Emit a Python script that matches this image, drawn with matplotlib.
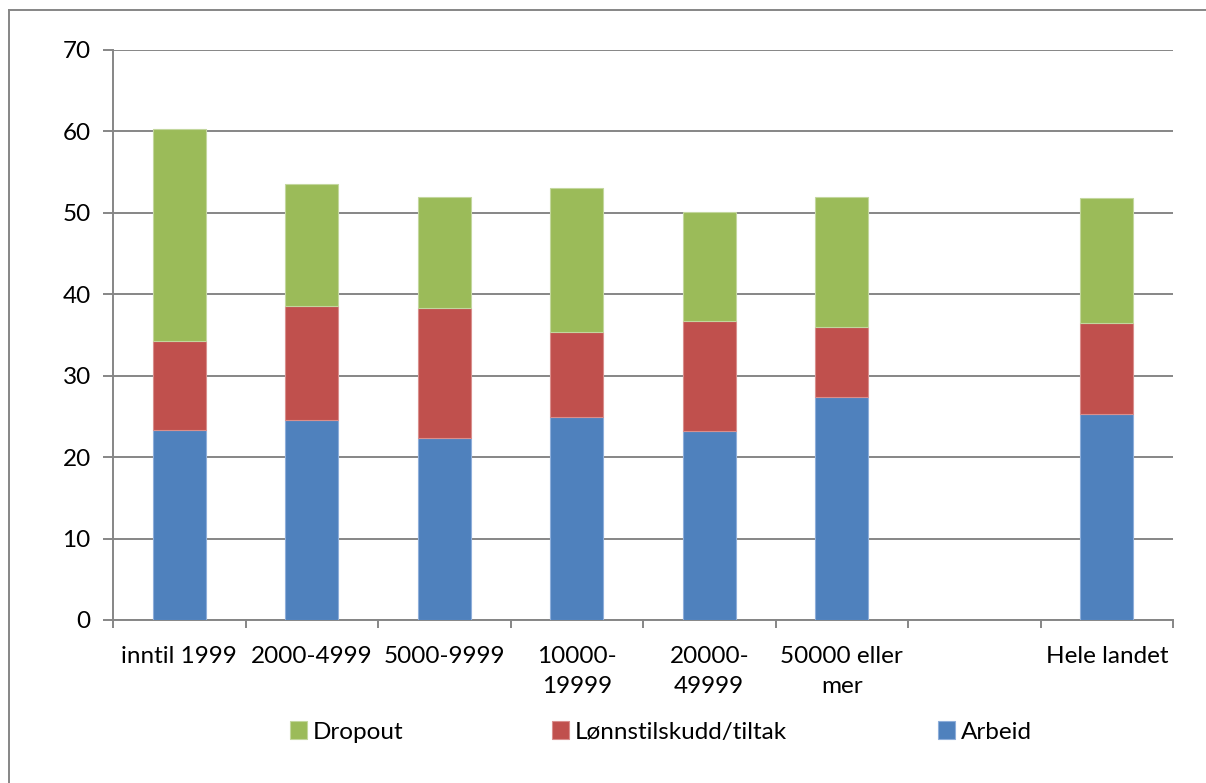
import matplotlib
matplotlib.use("Agg")
import matplotlib.pyplot as plt
import numpy as np
from matplotlib.lines import Line2D

categories = ["inntil 1999", "2000-4999", "5000-9999", "10000-\n19999",
              "20000-\n49999", "50000 eller\nmer", "", "Hele landet"]
arbeid = [23.3, 24.6, 22.3, 24.9, 23.2, 27.4, 0.0, 25.3]
lonnstilskudd = [11.0, 14.0, 16.0, 10.5, 13.5, 8.6, 0.0, 11.2]
dropout = [26.0, 14.9, 13.6, 17.6, 13.4, 15.9, 0.0, 15.3]
series_names = ["Arbeid", "Lønnstilskudd/tiltak", "Dropout"]
yticks = [0, 10, 20, 30, 40, 50, 60, 70]

plt.rcParams['font.family'] = ['Lato', 'DejaVu Sans']
FS = 17.5

W, H = 1206, 783
fig = plt.figure(figsize=(W / 100, H / 100), dpi=100)
ax = fig.add_axes([113 / W, (H - 620) / H, (1173 - 113) / W, 570 / H])

colors = ["#4F81BD", "#C0504D", "#9BBB59"]
edges = ["#8EAEDA", "#D98F8D", "#C3D79E"]
x = np.arange(len(categories))
arbeid_a = np.array(arbeid)
lonn_a = np.array(lonnstilskudd)
drop_a = np.array(dropout)
mask = (arbeid_a + lonn_a + drop_a) > 0
bw = 0.4
b1 = ax.bar(x[mask], arbeid_a[mask], bw, color=colors[0], edgecolor=edges[0], linewidth=0.8, label=series_names[0], zorder=3)
b2 = ax.bar(x[mask], lonn_a[mask], bw, bottom=arbeid_a[mask], color=colors[1], edgecolor=edges[1], linewidth=0.8, label=series_names[1], zorder=3)
b3 = ax.bar(x[mask], drop_a[mask], bw, bottom=(arbeid_a + lonn_a)[mask], color=colors[2], edgecolor=edges[2], linewidth=0.8, label=series_names[2], zorder=3)

ax.set_xlim(-0.5, len(categories) - 0.5)
ax.set_ylim(0, 70)
ax.set_yticks(yticks)
ax.set_yticklabels([str(v) for v in yticks], fontsize=FS)
ax.yaxis.grid(True, color="#868686", linewidth=1.4, zorder=0)
ax.set_axisbelow(True)

ax.set_xticks(x)
ax.set_xticklabels(categories, fontsize=FS, linespacing=1.5, va='top')
ax.set_xticks(np.arange(-0.5, len(categories), 1.0), minor=True)
ax.tick_params(axis='x', which='major', length=0, pad=19)
ax.tick_params(axis='x', which='minor', length=6, width=1.4, color="#868686")
ax.tick_params(axis='y', length=7, width=1.4, color="#868686", pad=9)

for s in ["top", "right"]:
    ax.spines[s].set_visible(False)
for s in ["left", "bottom"]:
    ax.spines[s].set_color("#868686")
    ax.spines[s].set_linewidth(1.4)

# legend entries placed individually
handles = [b3, b2, b1]
xs = [286, 548, 934]
for h, xp in zip(handles, xs):
    fig.legend([h], [h.get_label()], loc='center left',
               bbox_to_anchor=(xp / W - 0.013, (H - 732) / H),
               frameon=False, fontsize=FS, handlelength=0.7, handleheight=0.7,
               handletextpad=0.25, borderpad=0.3)

# outer border (top and left)
fig.add_artist(Line2D([9 / W, 1.0], [(H - 10) / H, (H - 10) / H], transform=fig.transFigure, color="#868686", linewidth=1.4))
fig.add_artist(Line2D([9 / W, 9 / W], [0, (H - 10) / H], transform=fig.transFigure, color="#868686", linewidth=1.4))

fig.savefig("out.png", dpi=100)
